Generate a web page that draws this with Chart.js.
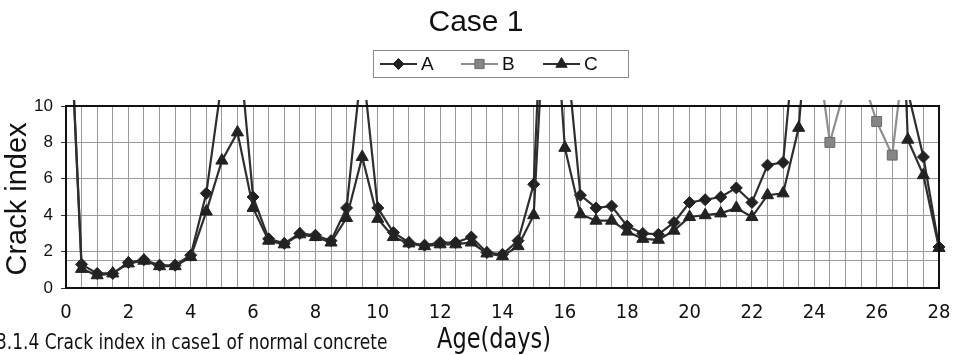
<!DOCTYPE html>
<html><head><meta charset="utf-8">
<script src="https://cdn.jsdelivr.net/npm/chart.js@4/dist/chart.umd.min.js"></script>
<style>html,body{margin:0;padding:0;background:#fff;}canvas{display:block;}</style>
</head><body>
<canvas id="c" width="960" height="355"></canvas>
<script>
// ---- data (values above 10 run off the top of the plot) ----
const days = [0,0.5,1,1.5,2,2.5,3,3.5,4,4.5,5,5.5,6,6.5,7,7.5,8,8.5,9,9.5,10,10.5,11,11.5,12,12.5,13,13.5,14,14.5,15,15.5,16,16.5,17,17.5,18,18.5,19,19.5,20,20.5,21,21.5,22,22.5,23,23.5,24,24.5,25,25.5,26,26.5,27,27.5,28];
const seriesA = [20,1.3,0.8,0.8,1.4,1.55,1.25,1.25,1.8,5.2,11.4,14.3,5.0,2.7,2.45,3.0,2.9,2.6,4.4,12.5,4.4,3.05,2.5,2.35,2.5,2.5,2.8,1.95,1.85,2.6,5.7,25,14,5.1,4.4,4.5,3.4,3.0,2.95,3.6,4.7,4.85,5.0,5.5,4.7,6.75,6.9,16,20,20,20,20,20,20,10.8,7.2,2.25];
const seriesB = [null,null,null,null,null,null,null,null,null,null,null,null,null,null,null,null,null,null,null,null,null,null,null,null,null,null,null,null,null,null,null,null,null,null,null,null,null,null,null,null,null,null,null,null,null,null,null,null,14.3,8.0,11.1,11.8,9.15,7.3,14.5,null,null];
const seriesC = [20,1.05,0.7,0.8,1.35,1.5,1.2,1.2,1.7,4.2,7.0,8.55,4.4,2.6,2.4,2.95,2.8,2.5,3.85,7.2,3.8,2.8,2.45,2.3,2.4,2.4,2.5,1.9,1.75,2.3,4.0,20,7.7,4.05,3.7,3.7,3.1,2.7,2.65,3.15,3.9,4.0,4.1,4.4,3.9,5.1,5.2,8.8,19,20,20,20,20,30,8.15,6.2,2.2];
const seriesLabels = ['A','B','C'];
const xTickLabels = ['0','2','4','6','8','10','12','14','16','18','20','22','24','26','28'];
const yTickValues = [0,2,4,6,8,10];
const referenceLevel = 1.5;
const chartTitle = 'Case 1';
const yTitle = 'Crack index';
const xTitle = 'Age(days)';
const captionText = '3.1.4 Crack index in case1 of normal concrete';

const NARROW = '"Liberation Sans Narrow","Arial Narrow","DejaVu Sans Condensed",sans-serif';
const SANS = '"Liberation Sans",Arial,Helvetica,sans-serif';

function pts(arr){ return days.map((d,i)=>({x:d,y:arr[i]})); }

const styles = [
  {line:'#2e2e2e', fill:'#222', border:'#222', shape:'rectRot', r:6},
  {line:'#8e8e8e', fill:'#858585', border:'#6a6a6a', shape:'rect', r:7},
  {line:'#2e2e2e', fill:'#222', border:'#222', shape:'triangle', r:7}
];
const allSeries = [seriesA, seriesB, seriesC];

const datasets = allSeries.map((s,i)=>({
  label: seriesLabels[i],
  data: pts(s),
  borderColor: styles[i].line,
  backgroundColor: styles[i].fill,
  pointBackgroundColor: styles[i].fill,
  pointBorderColor: styles[i].border,
  pointBorderWidth: 1,
  pointStyle: styles[i].shape,
  pointRadius: styles[i].r,
  borderWidth: 2.2,
  tension: 0,
  spanGaps: false,
  order: i===2 ? 0 : (i===0 ? 1 : 2),
  clip: {left: 12, right: 12, top: 6, bottom: 12}
}));

function drawMarker(ctx, shape, x, y, r){
  ctx.beginPath();
  if(shape==='rectRot'){
    ctx.moveTo(x, y-r); ctx.lineTo(x+r, y); ctx.lineTo(x, y+r); ctx.lineTo(x-r, y); ctx.closePath();
  } else if(shape==='rect'){
    const s = r*Math.SQRT1_2; ctx.rect(x-s, y-s, 2*s, 2*s);
  } else {
    const w = r*Math.sqrt(3)/2;
    ctx.moveTo(x, y-r); ctx.lineTo(x+w, y+r/2); ctx.lineTo(x-w, y+r/2); ctx.closePath();
  }
  ctx.fill(); ctx.stroke();
}

function squeezeText(ctx, text, x, y, sx, align){
  ctx.save();
  ctx.translate(x, y); ctx.scale(sx, 1);
  ctx.textAlign = align;
  ctx.fillText(text, 0, 0);
  ctx.restore();
}

const decor = {
  id:'decor',
  afterDraw(chart){
    const ctx = chart.ctx, a = chart.chartArea;
    ctx.save();
    // plot frame
    ctx.strokeStyle = '#111'; ctx.lineWidth = 2;
    ctx.strokeRect(a.left, a.top, a.right-a.left, a.bottom-a.top);
    // title
    ctx.fillStyle = '#111';
    ctx.font = '30px ' + SANS;
    ctx.textAlign = 'center'; ctx.textBaseline = 'alphabetic';
    ctx.fillText(chartTitle, 476, 31);
    // legend box
    ctx.strokeStyle = '#8a8a8a'; ctx.lineWidth = 1;
    ctx.strokeRect(373.5, 50.5, 255, 27);
    const starts = [380, 461, 543];
    chart.data.datasets.forEach((ds,i)=>{
      const sx = starts[i], cy = 64, w = 37;
      ctx.strokeStyle = styles[i].line; ctx.lineWidth = 2;
      ctx.beginPath(); ctx.moveTo(sx, cy); ctx.lineTo(sx+w, cy); ctx.stroke();
      ctx.fillStyle = styles[i].fill; ctx.strokeStyle = styles[i].border; ctx.lineWidth = 1;
      drawMarker(ctx, styles[i].shape, sx+w/2, cy, styles[i].r - 0.5);
      ctx.fillStyle = '#111';
      ctx.font = '19px ' + SANS;
      ctx.textAlign = 'left'; ctx.textBaseline = 'middle';
      ctx.fillText(ds.label, sx+w+4, cy+1);
    });
    // y title
    ctx.save();
    ctx.translate(18, 199); ctx.rotate(-Math.PI/2);
    ctx.font = '29px ' + SANS; ctx.fillStyle = '#111';
    ctx.textAlign = 'center'; ctx.textBaseline = 'middle';
    ctx.fillText(yTitle, 0, 0);
    ctx.restore();
    // x title
    ctx.font = '29px ' + NARROW; ctx.fillStyle = '#111';
    ctx.textBaseline = 'middle';
    squeezeText(ctx, xTitle, 494, 340, 0.86, 'center');
    // caption
    ctx.font = '21px ' + NARROW;
    squeezeText(ctx, captionText, -4, 344, 0.9, 'left');
    ctx.restore();
  }
};

new Chart(document.getElementById('c'), {
  type: 'line',
  data: { datasets },
  options: {
    responsive: false, animation: false, devicePixelRatio: 1,
    layout: { padding: { top: 106, left: 0, right: 21, bottom: 0 } },
    plugins: { legend: { display: false }, title: { display: false }, tooltip: { enabled: false } },
    scales: {
      x: {
        type: 'linear', min: 0, max: 28,
        ticks: {
          stepSize: 0.5, autoSkip: false, maxRotation: 0, minRotation: 0, padding: 6,
          color: '#111', font: { family: NARROW, size: 20, lineHeight: 1.9 },
          callback: v => xTickLabels.includes(String(v)) ? String(v) : ''
        },
        grid: { color: '#9a9a9a', lineWidth: 1, drawTicks: false },
        border: { display: false },
        afterFit: s => { s.height = 67; }
      },
      y: {
        min: 0, max: 10,
        afterBuildTicks: s => { s.ticks = yTickValues.concat([referenceLevel]).sort((p,q)=>p-q).map(v=>({value:v})); },
        ticks: {
          autoSkip: false, padding: 8, color: '#111', font: { family: SANS, size: 17 },
          callback: v => yTickValues.includes(v) ? String(v) : ''
        },
        grid: { color: '#9a9a9a', lineWidth: 1, tickLength: 5,
                tickColor: c => (c.tick && c.tick.value === referenceLevel) ? 'rgba(0,0,0,0)' : '#333' },
        border: { display: false },
        afterFit: s => { s.width = 66; }
      }
    }
  },
  plugins: [decor]
});
</script>
</body></html>
